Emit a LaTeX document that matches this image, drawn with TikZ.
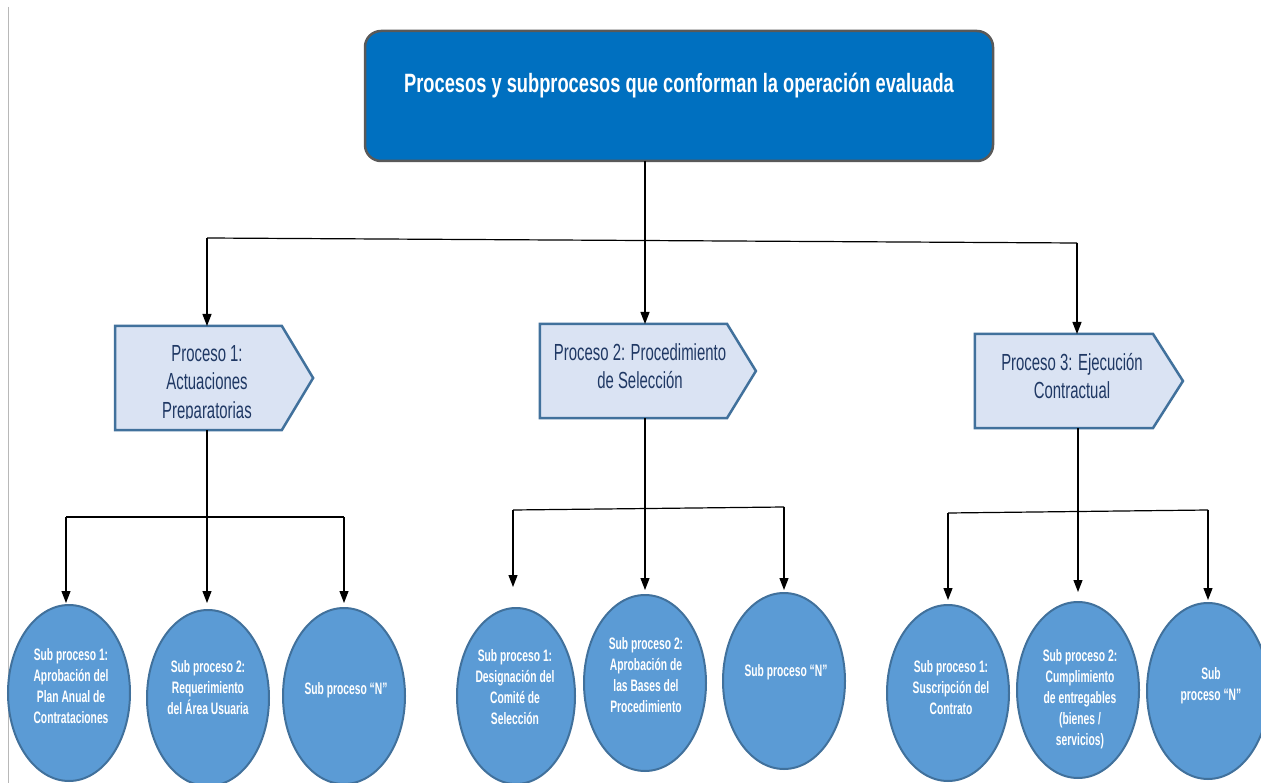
\documentclass[tikz,border=0pt]{standalone}
\usepackage{fontspec}
\setmainfont{Liberation Sans}
\newfontfamily\titlefont{Liberation Sans}[FakeStretch=0.69]
\newfontfamily\procfont{Liberation Sans}[FakeStretch=0.64]
\newfontfamily\subfont{Liberation Sans}[FakeStretch=0.62]
\usetikzlibrary{shapes.symbols,shapes.geometric,arrows.meta,calc}
\definecolor{titleblue}{HTML}{0070C0}
\definecolor{titleframe}{HTML}{595959}
\definecolor{procfill}{HTML}{DAE3F3}
\definecolor{procline}{HTML}{41719C}
\definecolor{procink}{HTML}{1F3864}
\definecolor{subfill}{HTML}{5B9BD5}
\definecolor{subline}{HTML}{41719C}
\begin{document}
\begin{tikzpicture}[x=1pt,y=-1pt,
  titlebox/.style={draw=titleframe, line width=2.5pt, fill=titleblue, rounded corners=16pt,
    minimum width=628pt, minimum height=130pt, inner sep=0pt, outer sep=0pt},
  titletext/.style={text=white, font=\titlefont\bfseries\fontsize{26.5}{30}\selectfont},
  procbox/.style={signal, signal to=east, draw=procline, line width=2.5pt, fill=procfill,
    inner sep=0pt, outer sep=0pt},
  proctext/.style={text=procink, align=center, font=\procfont\fontsize{23.3}{28.5}\selectfont},
  subell/.style={ellipse, draw=subline, line width=2pt, fill=subfill,
    minimum width=122pt, minimum height=176pt, inner sep=0pt, outer sep=0pt},
  subtext/.style={text=white, align=center, font=\subfont\bfseries\fontsize{16.6}{21}\selectfont},
  conn/.style={draw=black, line width=1.2pt},
  arr/.style={conn, -{Triangle[width=9pt,length=12pt]}},
]
\fill[white] (0,0) rectangle (1261,783);
\useasboundingbox (0,0) rectangle (1261,783);

% page margin rule
\draw[black!28, line width=1pt] (8,7) -- (8,783);

% title
\node[titlebox] (title) at (679,96) {};
\node[titletext] (titlelabel) at (679,86) {Procesos y subprocesos que conforman la operación evaluada};

% processes (the centre of a signal node is the centre of its body)
\node[procbox, minimum width=198pt, minimum height=104pt, signal pointer angle=118] (p1) at (198.5,378) {};
\node[procbox, minimum width=216pt, minimum height=94pt, signal pointer angle=117] (p2) at (633.5,371) {};
\node[procbox, minimum width=208pt, minimum height=94pt, signal pointer angle=115] (p3) at (1064,381) {};

\begin{scope}
  \clip (100,326) rectangle (320,418);
  \node[proctext] (t1) at (207,384) {Proceso 1:\\Actuaciones\\Preparatorias};
\end{scope}
\node[proctext] (t2) at (640,366) {Proceso 2: Procedimiento\\de Selección};
\node[proctext] (t3) at (1072,376) {Proceso 3: Ejecución\\Contractual};

% subprocesses
\node[subell] (s11) at (69,693) {};
\node[subell] (s12) at (208,698) {};
\node[subell] (s13) at (344,696) {};
\node[subell, minimum width=118pt] (s21) at (516,696) {};
\node[subell] (s22) at (645,683) {};
\node[subell] (s23) at (784,681) {};
\node[subell] (s31) at (948,693) {};
\node[subell] (s32) at (1078,690) {};
\node[subell] (s33) at (1208,691) {};

\node[subtext] (l11) at (71,686.5) {Sub proceso 1:\\Aprobación del\\Plan Anual de\\Contrataciones};
\node[subtext] (l12) at (208,688) {Sub proceso 2:\\Requerimiento\\del Área Usuaria};
\node[subtext] (l13) at (346,690) {Sub proceso “N”};
\node[subtext] (l21) at (515,687) {Sub proceso 1:\\Designación del\\Comité de\\Selección};
\node[subtext] (l22) at (646,675.5) {Sub proceso 2:\\Aprobación de\\las Bases del\\Procedimiento};
\node[subtext] (l23) at (786,672) {Sub proceso “N”};
\node[subtext] (l31) at (951,688) {Sub proceso 1:\\Suscripción del\\Contrato};
\node[subtext] (l32) at (1080,699) {Sub proceso 2:\\Cumplimiento\\de entregables\\(bienes /\\servicios)};
\node[subtext] (l33) at (1211,686) {Sub\\proceso “N”};

% branch points
\coordinate (b1) at (207,238);
\coordinate (b2) at (645,240);
\coordinate (b3) at (1077,243);
\coordinate (h1) at (207,517);
\coordinate (l1) at (66,517);
\coordinate (r1) at (344,517);
\coordinate (h2) at (645,508);
\coordinate (l2) at (513,510);
\coordinate (r2) at (784,507);
\coordinate (h3) at (1078,512);
\coordinate (l3) at (948,513);
\coordinate (r3) at (1208,510);

% title to processes
\draw[arr] (title.south -| b2) -- (p2.north -| b2);
\draw[conn] (b1) -- (b3);
\draw[arr] (b1) -- (b1 |- p1.north);
\draw[arr] (b3) -- (b3 |- p3.north);

% process 1 to its subprocesses
\draw[conn] (b1 |- p1.south) -- (h1);
\draw[conn] (l1) -- (r1);
\draw[arr, shorten >=2pt] (l1) -- (l1 |- s11.north);
\draw[arr, shorten >=7pt] (h1) -- (h1 |- s12.north);
\draw[arr, shorten >=5pt] (r1) -- (r1 |- s13.north);

% process 2 to its subprocesses
\draw[conn] (b2 |- p2.south) -- (h2);
\draw[conn] (l2) -- (r2);
\draw[arr, shorten >=21pt] (l2) -- (l2 |- s21.north);
\draw[arr, shorten >=5pt] (h2) -- (h2 |- s22.north);
\draw[arr, shorten >=3pt] (r2) -- (r2 |- s23.north);

% process 3 to its subprocesses
\draw[conn] (h3 |- p3.south) -- (h3);
\draw[conn] (l3) -- (r3);
\draw[arr, shorten >=5pt] (l3) -- (l3 |- s31.north);
\draw[arr, shorten >=10pt] (h3) -- (h3 |- s32.north);
\draw[arr, shorten >=3pt] (r3) -- (r3 |- s33.north);
\end{tikzpicture}
\end{document}
